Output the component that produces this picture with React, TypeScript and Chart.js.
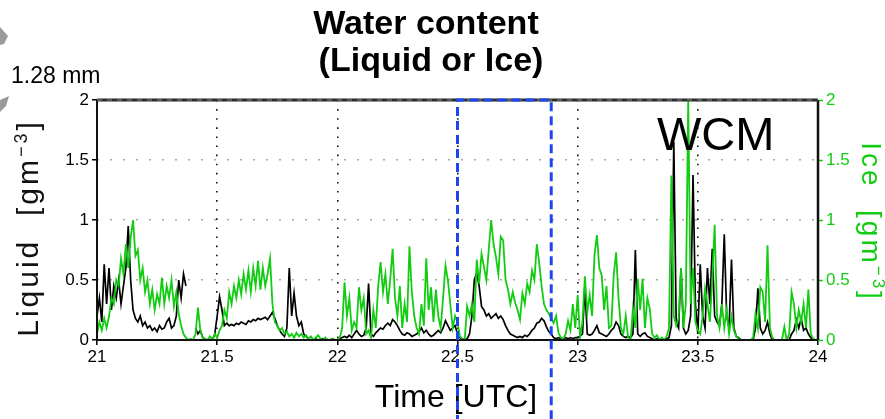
import React, { useEffect, useRef } from "react";
import { Chart, registerables } from "chart.js";

Chart.register(...registerables);

// Time grid: samples every 0.01 h from 21.00 UTC
const TIME_START = 21;
const TIME_STEP = 0.01;
const X_MIN = 21;
const X_MAX = 24;
const Y_MIN = 0;
const Y_MAX = 2;
const highlightRange = [22.5, 22.89];

// Ice water content [g m^-3], 21.00 - 21.99
const ice21 = [
  0.05, 0.15, 0.08, 0.18, 0.1, 0.2, 0.35, 0.3, 0.5, 0.45,
  0.68, 0.55, 0.8, 0.6, 0.85, 1.0, 0.7, 0.75, 0.5, 0.6,
  0.4, 0.5, 0.3, 0.42, 0.25, 0.38, 0.3, 0.52, 0.3, 0.45,
  0.35, 0.5, 0.28, 0.4, 0.22, 0.12, 0.05, 0.02, 0.0, 0.01,
  0.0, 0.05, 0.27, 0.08, 0.02, 0.01, 0.0, 0.03, 0.0, 0.05,
  0.02, 0.08, 0.12, 0.25, 0.18, 0.4, 0.3, 0.45, 0.35, 0.5,
  0.38, 0.55, 0.42, 0.58, 0.4, 0.6, 0.45, 0.66, 0.42, 0.6,
  0.45, 0.55, 0.68, 0.3, 0.15, 0.12, 0.08, 0.1, 0.05, 0.07,
  0.03, 0.05, 0.02, 0.06, 0.03, 0.05, 0.02, 0.04, 0.01, 0.03,
  0.0, 0.02, 0.04, 0.01, 0.0, 0.02, 0.0, 0.0, 0.01, 0.0,
];
// 22.00 - 22.99
const ice22 = [
  0.0, 0.02, 0.1, 0.48, 0.2, 0.35, 0.08, 0.15, 0.1, 0.44,
  0.25, 0.35, 0.05, 0.08, 0.02, 0.25, 0.1, 0.45, 0.65, 0.4,
  0.55, 0.3, 0.5, 0.76, 0.35, 0.2, 0.45, 0.1, 0.3, 0.15,
  0.78, 0.4, 0.2, 0.1, 0.05, 0.3, 0.12, 0.68, 0.25, 0.44,
  0.15, 0.42, 0.2, 0.1, 0.35, 0.62, 0.5, 0.3, 0.1, 0.2,
  0.15, 0.03, 0.01, 0.0, 0.28, 0.2, 0.3, 0.15, 0.67, 0.47,
  0.72, 0.61, 0.5, 0.75, 1.0, 0.8, 0.69, 0.55, 0.86, 0.83,
  0.5, 0.42, 0.3, 0.4, 0.31, 0.25, 0.17, 0.39, 0.3, 0.47,
  0.4, 0.58, 0.5, 0.8, 0.64, 0.45, 0.3, 0.25, 0.22, 0.18,
  0.14, 0.2, 0.06, 0.02, 0.01, 0.05, 0.16, 0.08, 0.3, 0.1,
];
// 23.00 - 24.00
const ice23 = [
  0.375, 0.02, 0.15, 0.53, 0.23, 0.375, 0.2, 0.71, 0.875, 0.6,
  0.54, 0.25, 0.45, 0.1, 0.12, 0.54, 0.73, 0.35, 0.1, 0.05,
  0.2, 0.02, 0.0, 0.26, 0.1, 0.51, 0.25, 0.51, 0.1, 0.35,
  0.26, 0.05, 0.02, 0.04, 0.0, 0.02, 0.0, 0.03, 0.1, 1.37,
  0.2, 0.12, 0.18, 0.6, 0.1, 0.3, 2.0, 0.3, 0.6, 0.15,
  0.08, 0.05, 0.2, 0.43, 0.3, 0.15, 0.5, 0.96, 0.2, 0.1,
  0.3, 0.1, 0.25, 0.05, 0.2, 0.08, 0.03, 0.01, 0.0, 0.0,
  0.0, 0.0, 0.0, 0.02, 0.22, 0.1, 0.44, 0.4, 0.15, 0.79,
  0.1, 0.02, 0.0, 0.0, 0.0, 0.0, 0.11, 0.0, 0.05, 0.4,
  0.3, 0.1, 0.25, 0.15, 0.3, 0.1, 0.42, 0.05, 0.01, 0.0,
  0.0,
];

// Liquid water content [g m^-3], 21.00 - 21.99 (null = no data)
const liquid21 = [
  0.2, 0.35, 0.15, 0.63, 0.3, 0.6, 0.25, 0.45, 0.35, 0.5,
  0.3, 0.45, 0.6, 0.95, 0.5, 0.25, 0.18, 0.15, 0.2, 0.12,
  0.15, 0.1, 0.12, 0.08, 0.1, 0.07, 0.12, 0.09, 0.1, 0.15,
  0.18, 0.1, 0.12, 0.2, 0.5, 0.35, 0.55, 0.45, null, null,
  null, 0.1, 0.05, 0.08, 0.02, 0.0, 0.0, 0.0, 0.0, 0.05,
  0.2, 0.36, 0.25, 0.12, 0.14, 0.12, 0.13, 0.12, 0.14, 0.13,
  0.15, 0.14, 0.13, 0.16, 0.15, 0.17, 0.16, 0.18, 0.17, 0.18,
  0.19, 0.17, 0.2, 0.23, 0.18, 0.12, 0.08, 0.05, 0.03, 0.1,
  0.6, 0.2, 0.39, 0.2, 0.12, 0.15, 0.05, 0.03, 0.01, 0.0,
  0.0, 0.01, 0.0, 0.0, 0.01, 0.0, 0.0, 0.0, 0.01, 0.0,
];
// 22.00 - 22.99
const liquid22 = [
  0.0, 0.01, 0.02, 0.03, 0.02, 0.04, 0.02, 0.05, 0.08, 0.05,
  0.03, 0.04, 0.1, 0.47, 0.05, 0.03, 0.06, 0.08, 0.1, 0.09,
  0.12, 0.14, 0.12, 0.17, 0.15, 0.12, 0.08, 0.05, 0.04, 0.06,
  0.05, 0.03, 0.04, 0.05, 0.07, 0.1, 0.06, 0.08, 0.05, 0.03,
  0.04, 0.06, 0.08, 0.06, 0.1, 0.16, 0.12, 0.08, 0.1, 0.12,
  0.05, 0.02, 0.01, 0.0, 0.01, 0.05, 0.2, 0.5, 0.56, 0.45,
  0.28, 0.25, 0.2, 0.22, 0.18, 0.2, 0.22, 0.18, 0.2, 0.17,
  0.12, 0.08, 0.05, 0.04, 0.03, 0.02, 0.03, 0.02, 0.04, 0.03,
  0.05, 0.08, 0.1, 0.14, 0.15, 0.18, 0.16, 0.11, 0.07, 0.05,
  0.02, 0.01, 0.02, 0.01, 0.01, 0.02, 0.01, 0.02, 0.01, 0.02,
];
// 23.00 - 24.00
const liquid23 = [
  0.02, 0.03, 0.05, 0.44, 0.05, 0.04, 0.05, 0.08, 0.12, 0.06,
  0.05, 0.04, 0.03, 0.05, 0.08, 0.1, 0.15, 0.12, 0.05, 0.03,
  0.02, 0.03, 0.02, 0.05, 0.75, 0.05, 0.03, 0.05, 0.06, 0.03,
  0.02, 0.01, 0.0, 0.01, 0.0, 0.01, 0.0, 0.01, 0.02, 0.12,
  1.65, 0.15, 0.1, 0.6, 0.1, 0.05, 0.08, 0.2, 1.375, 0.3,
  0.05, 0.63, 0.2, 0.1, 0.6, 0.3, 0.76, 0.2, 0.15, 0.12,
  0.3, 0.88, 0.2, 0.1, 0.67, 0.1, 0.03, 0.02, 0.0, 0.0,
  0.0, 0.0, 0.0, 0.0, 0.1, 0.43, 0.1, 0.05, 0.08, 0.15,
  0.05, 0.0, 0.0, 0.0, 0.0, 0.0, 0.0, 0.0, 0.0, 0.05,
  0.08, 0.17, 0.1, 0.18, 0.08, 0.1, 0.05, 0.02, 0.0, 0.0,
  0.0,
];

const ice = [...ice21, ...ice22, ...ice23];
const liquid = [...liquid21, ...liquid22, ...liquid23];
const times = liquid.map((_, i) => Math.round((TIME_START + i * TIME_STEP) * 100) / 100);

const FONT = "'Liberation Sans', Arial, Helvetica, sans-serif";
const GREEN = "#12cc12";
const BLUE = "#1e46f0";

function drawSupText(
  ctx: CanvasRenderingContext2D,
  pre: string,
  sup: string,
  post: string,
  size: number,
  color: string,
  spacing: number
) {
  // draws centered at (0,0) on baseline
  const c: any = ctx;
  c.letterSpacing = `${spacing}px`;
  ctx.fillStyle = color;
  ctx.textBaseline = "alphabetic";
  ctx.textAlign = "left";
  ctx.font = `${size}px ${FONT}`;
  const w1 = ctx.measureText(pre).width;
  const w3 = ctx.measureText(post).width;
  ctx.font = `${Math.round(size * 0.6)}px ${FONT}`;
  const w2 = ctx.measureText(sup).width;
  const total = w1 + w2 + w3;
  let x = -total / 2;
  ctx.font = `${size}px ${FONT}`;
  ctx.fillText(pre, x, 0);
  x += w1;
  ctx.font = `${Math.round(size * 0.6)}px ${FONT}`;
  ctx.fillText(sup, x, -size * 0.38);
  x += w2;
  ctx.font = `${size}px ${FONT}`;
  ctx.fillText(post, x, 0);
  c.letterSpacing = "0px";
}

const overlayPlugin = {
  id: "overlay",
  afterDraw(chart: any) {
    const { ctx, chartArea } = chart;
    const { left, right, top, bottom } = chartArea;
    const xs = chart.scales.x;
    ctx.save();

    // frame
    ctx.setLineDash([]);
    ctx.strokeStyle = "#111";
    ctx.lineWidth = 2;
    ctx.beginPath();
    ctx.moveTo(left, top);
    ctx.lineTo(left, bottom);
    ctx.lineTo(right, bottom);
    ctx.stroke();
    ctx.lineWidth = 2.5;
    ctx.beginPath();
    ctx.moveTo(right, top);
    ctx.lineTo(right, bottom);
    ctx.stroke();
    ctx.lineWidth = 3;
    ctx.strokeStyle = "#2a2a2a";
    ctx.beginPath();
    ctx.moveTo(left, top);
    ctx.lineTo(right, top);
    ctx.stroke();
    ctx.setLineDash([5, 5]);
    ctx.strokeStyle = "#8a8a8a";
    ctx.lineWidth = 1;
    ctx.beginPath();
    ctx.moveTo(left, top);
    ctx.lineTo(right, top);
    ctx.stroke();
    ctx.setLineDash([]);

    // slide arrow remnants at the left edge
    ctx.fillStyle = "#9a9a9a";
    ctx.beginPath();
    ctx.moveTo(0, 27);
    ctx.lineTo(8, 36);
    ctx.lineTo(4, 44);
    ctx.lineTo(0, 45);
    ctx.closePath();
    ctx.fill();
    ctx.beginPath();
    ctx.moveTo(0, 100);
    ctx.lineTo(9, 96);
    ctx.lineTo(6, 106);
    ctx.lineTo(0, 112);
    ctx.closePath();
    ctx.fill();

    // title
    ctx.fillStyle = "#000";
    ctx.textAlign = "center";
    ctx.textBaseline = "alphabetic";
    ctx.font = `bold 34px ${FONT}`;
    ctx.fillText("Water content", 426, 34);
    ctx.fillText("(Liquid or Ice)", 431, 71);

    // annotation
    ctx.textAlign = "left";
    ctx.font = `23px ${FONT}`;
    ctx.fillText("1.28 mm", 11, 83);

    ctx.font = `47px ${FONT}`;
    ctx.fillText("WCM", 657, 150);

    // x title
    ctx.textAlign = "center";
    ctx.font = `32px ${FONT}`;
    ctx.fillText("Time [UTC]", 456, 407);

    // left y title
    ctx.save();
    ctx.translate(38, 228);
    ctx.rotate(-Math.PI / 2);
    drawSupText(ctx, "Liquid  [gm", "\u22123", "]", 30, "#111", 3);
    ctx.restore();

    // right y title
    ctx.save();
    ctx.translate(862, 222);
    ctx.rotate(Math.PI / 2);
    drawSupText(ctx, "Ice  [gm", "\u22123", "]", 28, GREEN, 3);
    ctx.restore();

    // highlight box
    const hx0 = xs.getPixelForValue(highlightRange[0]);
    const hx1 = xs.getPixelForValue(highlightRange[1]);
    ctx.strokeStyle = BLUE;
    ctx.lineWidth = 3;
    ctx.setLineDash([9, 5]);
    ctx.beginPath();
    ctx.moveTo(hx0, chart.height + 5);
    ctx.lineTo(hx0, top);
    ctx.lineTo(hx1, top);
    ctx.lineTo(hx1, chart.height + 5);
    ctx.stroke();
    ctx.setLineDash([]);

    ctx.restore();
  },
};

export default function App() {
  const canvasRef = useRef<HTMLCanvasElement | null>(null);

  useEffect(() => {
    if (!canvasRef.current) return;
    const chart = new Chart(canvasRef.current, {
      type: "line",
      data: {
        datasets: [
          {
            label: "Ice",
            data: times.map((t, i) => ({ x: t, y: ice[i] })),
            borderColor: GREEN,
            borderWidth: 1.8,
            pointRadius: 0,
            tension: 0,
            yAxisID: "y1",
            spanGaps: false,
          },
          {
            label: "Liquid",
            data: times.map((t, i) => ({ x: t, y: liquid[i] })),
            borderColor: "#000",
            borderWidth: 1.7,
            pointRadius: 0,
            tension: 0,
            yAxisID: "y",
            spanGaps: false,
          },
        ],
      },
      options: {
        responsive: false,
        animation: false,
        devicePixelRatio: 1,
        layout: { padding: { top: 100, left: 0, right: 0, bottom: 0 } },
        plugins: {
          legend: { display: false },
          title: { display: false },
          tooltip: { enabled: false },
        },
        scales: {
          x: {
            type: "linear",
            min: X_MIN,
            max: X_MAX,
            ticks: {
              stepSize: 0.5,
              color: "#000",
              font: { family: FONT, size: 17 },
              padding: 2,
              maxRotation: 0,
              autoSkip: false,
              callback: (v: any) => String(v),
            },
            grid: {
              color: (c: any) =>
                c.tick && (c.tick.value === X_MIN || c.tick.value === X_MAX)
                  ? "rgba(0,0,0,0)"
                  : "#111",
              lineWidth: 1.6,
              tickLength: 5,
              tickColor: "#000",
              tickWidth: 1.5,
            },
            border: { display: false, dash: [1.6, 7.5] },
            afterFit: (s: any) => {
              s.height = 79;
            },
          },
          y: {
            position: "left",
            min: Y_MIN,
            max: Y_MAX,
            ticks: {
              stepSize: 0.5,
              color: "#000",
              font: { family: FONT, size: 17 },
              padding: 3,
              callback: (v: any) => String(v),
            },
            grid: {
              color: (c: any) =>
                c.tick && (c.tick.value === Y_MIN || c.tick.value === Y_MAX)
                  ? "rgba(0,0,0,0)"
                  : "#a8a8a8",
              lineWidth: 1.5,
              tickLength: 5,
              tickColor: "#000",
              tickWidth: 1.5,
            },
            border: { display: false, dash: [2, 11] },
            afterFit: (s: any) => {
              s.width = 97;
            },
          },
          y1: {
            position: "right",
            min: Y_MIN,
            max: Y_MAX,
            ticks: {
              stepSize: 0.5,
              color: GREEN,
              font: { family: FONT, size: 17 },
              padding: 3,
              callback: (v: any) => String(v),
            },
            grid: {
              drawOnChartArea: false,
              tickLength: 5,
              tickColor: GREEN,
              tickWidth: 1.5,
            },
            border: { display: false },
            afterFit: (s: any) => {
              s.width = 67;
            },
          },
        },
      },
      plugins: [overlayPlugin],
    });
    return () => chart.destroy();
  }, []);

  return (
    <div style={{ position: "absolute", left: 0, top: 0, width: 885, height: 419, background: "#fff" }}>
      <canvas ref={canvasRef} width={885} height={419} style={{ display: "block" }} />
    </div>
  );
}
